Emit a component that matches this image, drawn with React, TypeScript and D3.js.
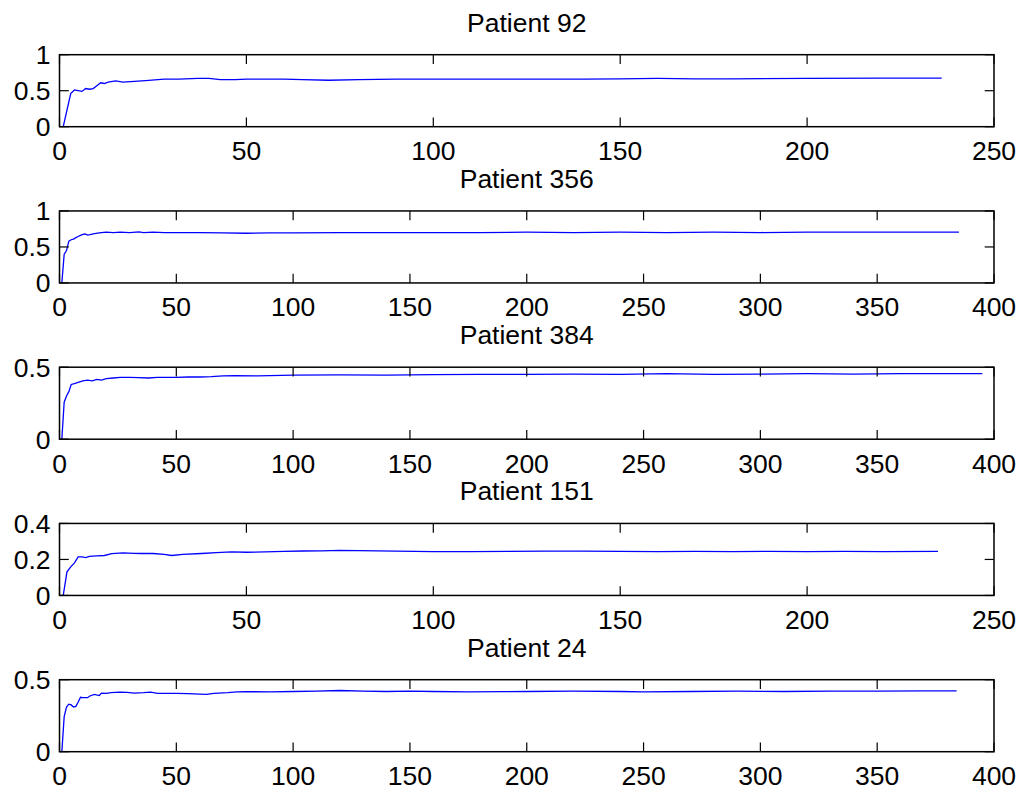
import React from "react";
import * as d3 from "d3";

// Panel titles and axis limits
const titles = ["Patient 92", "Patient 356", "Patient 384", "Patient 151", "Patient 24"];
const xMax = [250, 400, 400, 250, 400];
const yMax = [1, 1, 0.5, 0.4, 0.5];

// Tick labels
const xTicks250 = [0, 50, 100, 150, 200, 250];
const xTicks400 = [0, 50, 100, 150, 200, 250, 300, 350, 400];
const yTicksA = [0, 0.5, 1];
const yTicksB = [0, 0.5];
const yTicksC = [0, 0.2, 0.4];

// Patient 92
const p92X = [1, 3, 4, 5, 6, 7, 8, 9, 10, 11, 12, 13, 15, 17, 20, 23, 28, 32, 37, 40, 43, 47, 50, 60, 65, 72, 80, 90, 100, 120, 140, 150, 160, 170, 180, 200, 220, 236];
const p92Y = [0, 0.46, 0.51, 0.5, 0.49, 0.53, 0.52, 0.53, 0.57, 0.61, 0.6, 0.62, 0.635, 0.62, 0.63, 0.64, 0.66, 0.66, 0.67, 0.67, 0.655, 0.655, 0.66, 0.66, 0.655, 0.645, 0.655, 0.66, 0.66, 0.66, 0.66, 0.665, 0.67, 0.665, 0.665, 0.67, 0.675, 0.675];

// Patient 356
const p356X = [1, 2, 3, 4, 5, 6, 7, 8, 9, 10, 11, 12, 13, 15, 17, 20, 23, 26, 30, 34, 36, 40, 45, 50, 60, 70, 80, 90, 100, 120, 140, 160, 180, 200, 220, 240, 260, 280, 300, 320, 340, 360, 385];
const p356Y = [0, 0.4, 0.45, 0.58, 0.6, 0.61, 0.63, 0.645, 0.66, 0.675, 0.68, 0.665, 0.67, 0.685, 0.695, 0.705, 0.7, 0.705, 0.7, 0.71, 0.7, 0.705, 0.7, 0.7, 0.7, 0.695, 0.69, 0.695, 0.695, 0.7, 0.7, 0.7, 0.7, 0.705, 0.7, 0.705, 0.7, 0.705, 0.7, 0.705, 0.705, 0.705, 0.705];

// Patient 384
const p384X = [1, 2, 3, 4, 5, 6, 7, 9, 10, 12, 14, 16, 18, 20, 23, 26, 30, 34, 38, 42, 50, 55, 60, 65, 70, 75, 85, 100, 120, 140, 160, 180, 200, 220, 240, 260, 280, 300, 320, 340, 360, 380, 395];
const p384Y = [0, 0.257, 0.3, 0.33, 0.38, 0.385, 0.39, 0.4, 0.405, 0.41, 0.405, 0.415, 0.41, 0.42, 0.425, 0.43, 0.43, 0.428, 0.425, 0.43, 0.43, 0.432, 0.432, 0.435, 0.44, 0.442, 0.44, 0.445, 0.447, 0.445, 0.448, 0.45, 0.45, 0.452, 0.45, 0.455, 0.45, 0.452, 0.455, 0.452, 0.455, 0.455, 0.455];

// Patient 151
const p151X = [1, 2, 3, 4, 5, 6, 7, 8, 10, 12, 14, 17, 20, 22, 25, 28, 30, 33, 38, 42, 46, 50, 55, 60, 65, 70, 75, 80, 90, 100, 110, 120, 130, 140, 150, 160, 170, 180, 190, 200, 210, 220, 235];
const p151Y = [0, 0.131, 0.159, 0.181, 0.214, 0.214, 0.21, 0.217, 0.22, 0.222, 0.232, 0.236, 0.234, 0.233, 0.233, 0.228, 0.222, 0.228, 0.233, 0.238, 0.242, 0.24, 0.242, 0.245, 0.247, 0.248, 0.25, 0.249, 0.246, 0.243, 0.244, 0.245, 0.246, 0.246, 0.245, 0.243, 0.245, 0.244, 0.245, 0.244, 0.245, 0.244, 0.245];

// Patient 24
const p24X = [1, 2, 3, 4, 5, 6, 7, 8, 9, 10, 12, 13, 15, 17, 18, 20, 22, 26, 29, 32, 36, 39, 42, 50, 55, 60, 63, 66, 72, 76, 80, 90, 100, 110, 120, 130, 140, 150, 160, 175, 190, 200, 220, 240, 250, 270, 290, 310, 330, 350, 370, 384];
const p24Y = [0, 0.243, 0.31, 0.33, 0.325, 0.31, 0.315, 0.345, 0.378, 0.375, 0.375, 0.387, 0.398, 0.39, 0.407, 0.405, 0.41, 0.414, 0.412, 0.407, 0.41, 0.414, 0.405, 0.405, 0.403, 0.4, 0.398, 0.405, 0.41, 0.415, 0.417, 0.415, 0.418, 0.42, 0.425, 0.42, 0.418, 0.42, 0.418, 0.415, 0.417, 0.418, 0.42, 0.418, 0.415, 0.418, 0.42, 0.418, 0.42, 0.42, 0.422, 0.422];

const seriesX = [p92X, p356X, p384X, p151X, p24X];
const seriesY = [p92Y, p356Y, p384Y, p151Y, p24Y];
const xTickSets = [xTicks250, xTicks400, xTicks400, xTicks250, xTicks400];
const yTickSets = [yTicksA, yTicksA, yTicksB, yTicksC, yTicksB];

const W = 1021;
const H = 790;
const left = 59.5;
const right = 994;
const firstTop = 54.7;
const step = 156.25;
const panelH = 72;
const tickLen = 9.3;
const font = "'Liberation Sans', Arial, Helvetica, sans-serif";
const fontSize = 26.5;

function Panel({ i }: { i: number }) {
  const top = firstTop + i * step;
  const bottom = top + panelH;
  const x = d3.scaleLinear().domain([0, xMax[i]]).range([left, right]);
  const y = d3.scaleLinear().domain([0, yMax[i]]).range([bottom, top]);
  const pts = seriesX[i].map((v, k) => [v, seriesY[i][k]] as [number, number]);
  const line = d3
    .line<[number, number]>()
    .x((d) => x(d[0]))
    .y((d) => y(d[1]));
  const fmt = (v: number) => String(v);
  return (
    <g>
      <text
        x={(left + right) / 2}
        y={top - 23}
        textAnchor="middle"
        fontFamily={font}
        fontSize={fontSize}
        fill="#000"
      >
        {titles[i]}
      </text>
      <path d={line(pts) || ""} fill="none" stroke="#0000ff" strokeWidth={1.3} />
      {xTickSets[i].map((t) => (
        <g key={"x" + t}>
          <line x1={x(t)} x2={x(t)} y1={bottom} y2={bottom - tickLen} stroke="#000" strokeWidth={1.2} />
          <line x1={x(t)} x2={x(t)} y1={top} y2={top + tickLen} stroke="#000" strokeWidth={1.2} />
          <text
            x={x(t)}
            y={bottom + 33.5}
            textAnchor="middle"
            fontFamily={font}
            fontSize={fontSize}
            fill="#000"
          >
            {fmt(t)}
          </text>
        </g>
      ))}
      {yTickSets[i].map((t) => (
        <g key={"y" + t}>
          <line x1={left} x2={left + tickLen} y1={y(t)} y2={y(t)} stroke="#000" strokeWidth={1.2} />
          <line x1={right} x2={right - tickLen} y1={y(t)} y2={y(t)} stroke="#000" strokeWidth={1.2} />
          <text
            x={left - 9}
            y={y(t)}
            dy="0.36em"
            textAnchor="end"
            fontFamily={font}
            fontSize={fontSize}
            fill="#000"
          >
            {fmt(t)}
          </text>
        </g>
      ))}
      <rect
        x={left}
        y={top}
        width={right - left}
        height={panelH}
        fill="none"
        stroke="#000"
        strokeWidth={1.5}
      />
    </g>
  );
}

export default function App() {
  return (
    <svg
      width={W}
      height={H}
      viewBox={`0 0 ${W} ${H}`}
      style={{ position: "absolute", left: 0, top: 0, background: "#fff" }}
    >
      <rect x={0} y={0} width={W} height={H} fill="#fff" />
      {titles.map((_, i) => (
        <Panel key={i} i={i} />
      ))}
    </svg>
  );
}
